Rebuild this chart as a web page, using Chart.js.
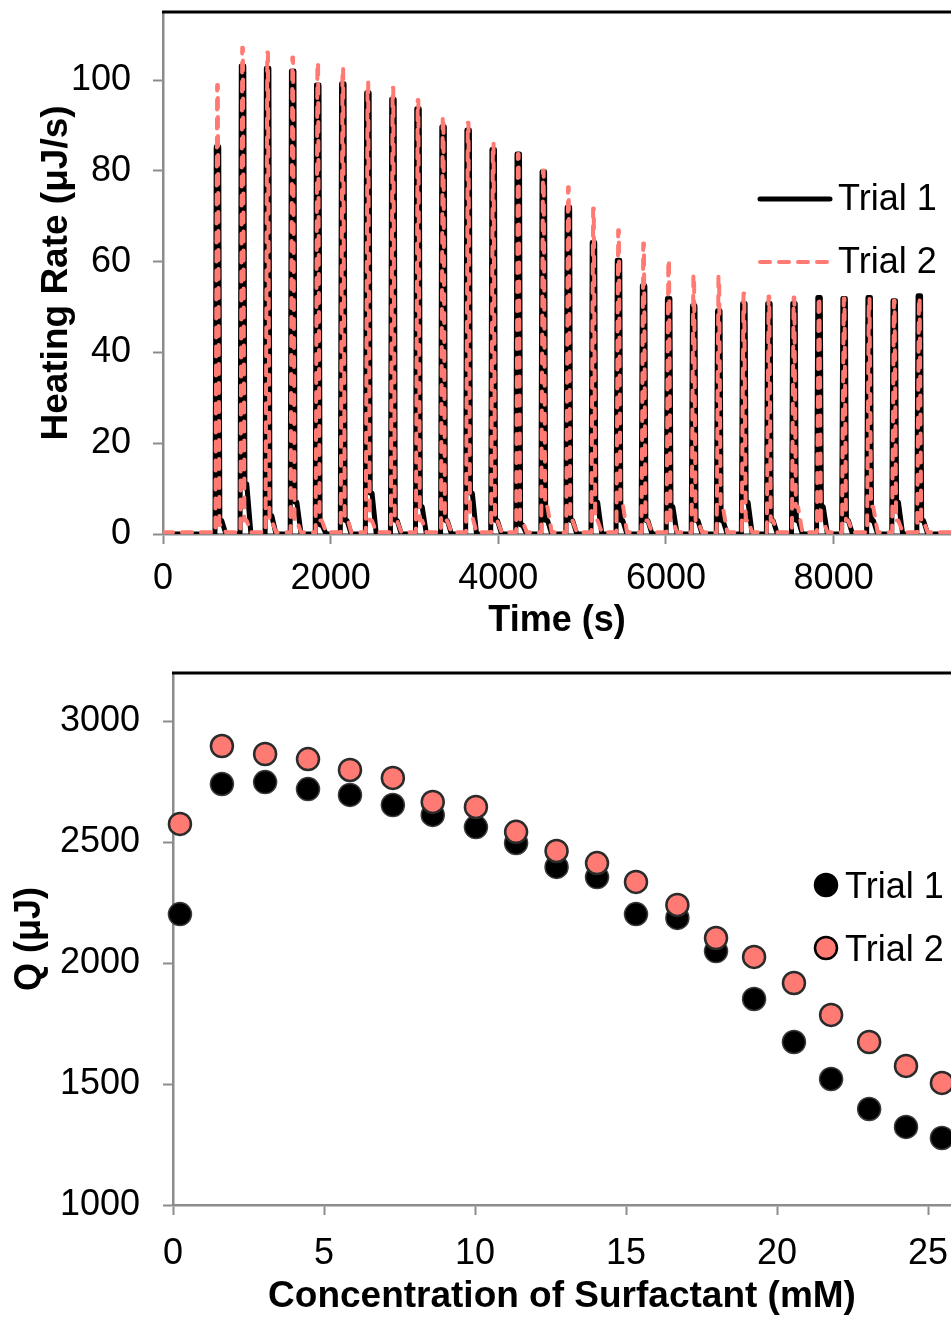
<!DOCTYPE html>
<html>
<head>
<meta charset="utf-8">
<script src="https://cdn.jsdelivr.net/npm/chart.js@4.4.1/dist/chart.umd.min.js"></script>
<style>
  html, body { margin: 0; padding: 0; background: #fff; overflow: hidden; }
  canvas { position: absolute; left: 0; }
  #heat { top: 0; }
  #heats { top: 650px; }
</style>
</head>
<body>
<canvas id="heat" width="951" height="650"></canvas>
<canvas id="heats" width="951" height="669"></canvas>
<script>
// thermogram: injection peak times (s) and peak heating rates (µJ/s)
const peakTime = [650, 949, 1248, 1547, 1846, 2145, 2444, 2743, 3042, 3341, 3640, 3939, 4238, 4537, 4836,
  5135, 5434, 5733, 6032, 6331, 6630, 6929, 7228, 7527, 7826, 8125, 8424, 8723, 9022];
const trial1Peak = [85.3, 103.1, 102.6, 102.0, 98.9, 99.2, 97.2, 95.8, 93.7, 89.7, 89.0, 84.7, 83.7, 79.8, 72.0,
  64.2, 60.3, 54.7, 51.9, 50.3, 49.2, 50.8, 50.8, 50.8, 52.1, 51.9, 52.1, 51.4, 52.5];
const trial2Peak = [98.9, 107.1, 106.1, 105.0, 103.8, 102.6, 99.5, 98.3, 95.6, 91.9, 90.6, 86.0, 83.7, 80.1, 76.4,
  71.7, 66.9, 64.0, 60.3, 57.0, 56.7, 53.0, 52.3, 52.1, 52.1, 51.9, 51.9, 51.4, 52.0];
// small shoulder left after each peak (µJ/s)
const trial1Tail = [3, 11, 4, 7, 2, 3, 9, 3, 6, 3, 9, 3, 2, 3, 3, 7, 3, 3, 6, 3, 3, 7, 3, 3, 6, 3, 3, 7, 3];
const trial2Tail = [2, 3, 3, 3, 3, 4, 3, 3, 3, 3, 4, 3, 3, 6, 3, 3, 7, 3, 3, 3, 6, 3, 3, 6, 3, 3, 6, 3, 3];
const timeTicks = [0, 2000, 4000, 6000, 8000];
const rateTicks = [0, 20, 40, 60, 80, 100];

// integrated heat per injection
const conc = [0.23, 1.62, 3.05, 4.47, 5.86, 7.28, 8.6, 10.03, 11.36, 12.7, 14.04, 15.33, 16.7, 17.98, 19.24,
  20.56, 21.79, 23.05, 24.27, 25.46];
const trial1Q = [2203, 2741, 2749, 2720, 2696, 2654, 2613, 2563, 2497, 2398, 2356, 2203, 2187, 2050, 1852,
  1674, 1521, 1397, 1323, 1277];
const trial2Q = [2576, 2898, 2865, 2844, 2799, 2766, 2667, 2646, 2543, 2464, 2414, 2336, 2241, 2104, 2026,
  1918, 1786, 1674, 1575, 1505];
const concTicks = [0, 5, 10, 15, 20, 25];
const qTicks = [1000, 1500, 2000, 2500, 3000];

const FONT = '"Liberation Sans", Arial, sans-serif';
const SALMON = '#FF7A73';
const AXIS = '#8c8c8c';

Chart.defaults.font.family = FONT;
Chart.defaults.font.size = 36;
Chart.defaults.color = '#000';

// black trace: wider peak top; salmon trace: narrow peak top
function trace1() {
  const pts = [{ x: 0, y: 0 }];
  peakTime.forEach((t, i) => {
    pts.push({ x: t - 30, y: 0 }, { x: t - 15, y: trial1Peak[i] }, { x: t + 15, y: trial1Peak[i] },
      { x: t + 28, y: trial1Tail[i] }, { x: t + 50, y: trial1Tail[i] }, { x: t + 100, y: 0 });
  });
  pts.push({ x: 9400, y: 0 });
  return pts;
}
function trace2() {
  const pts = [{ x: 0, y: 0.4 }];
  peakTime.forEach((t, i) => {
    pts.push({ x: t - 25, y: 0.4 }, { x: t - 4, y: trial2Peak[i] }, { x: t + 4, y: trial2Peak[i] },
      { x: t + 22, y: trial2Tail[i] }, { x: t + 48, y: trial2Tail[i] }, { x: t + 100, y: 0.4 });
  });
  pts.push({ x: 9400, y: 0.4 });
  return pts;
}

const setTicks = list => s => { s.ticks = list.map(v => ({ value: v })); };
const plain = v => String(v);

const topBorder = {
  id: 'topBorder',
  afterDraw(chart) {
    const { ctx, chartArea: a } = chart;
    ctx.save();
    ctx.strokeStyle = '#000';
    ctx.lineWidth = 3;
    ctx.beginPath();
    ctx.moveTo(a.left - 1, a.top);
    ctx.lineTo(a.right, a.top);
    ctx.stroke();
    ctx.restore();
  }
};

const insideLegend = {
  id: 'insideLegend',
  afterDraw(chart, args, o) {
    const ctx = chart.ctx;
    ctx.save();
    ctx.font = '36px ' + FONT;
    ctx.textBaseline = 'middle';
    chart.data.datasets.forEach((ds, i) => {
      const y = o.y + i * o.gap;
      if (o.kind === 'line') {
        ctx.strokeStyle = ds.borderColor;
        ctx.lineWidth = ds.borderWidth;
        ctx.lineCap = 'round';
        ctx.setLineDash(ds.borderDash || []);
        ctx.beginPath();
        ctx.moveTo(o.x, y);
        ctx.lineTo(o.x + o.len, y);
        ctx.stroke();
        ctx.setLineDash([]);
        ctx.fillStyle = '#000';
        ctx.fillText(ds.label, o.x + o.len + 8, y + 1);
      } else {
        ctx.fillStyle = ds.backgroundColor;
        ctx.strokeStyle = i === 0 ? ds.backgroundColor : '#000';
        ctx.lineWidth = 2.5;
        ctx.beginPath();
        ctx.arc(o.x, y, 11, 0, Math.PI * 2);
        ctx.fill();
        ctx.stroke();
        ctx.fillStyle = '#000';
        ctx.fillText(ds.label, o.x + 19, y + 3);
      }
    });
    ctx.restore();
  }
};

function axis(extra) {
  return Object.assign({
    type: 'linear',
    grid: { drawOnChartArea: false, drawTicks: true, tickLength: 10, tickColor: AXIS, tickWidth: 2 },
    border: { display: true, color: AXIS, width: 2.5 }
  }, extra);
}

new Chart(document.getElementById('heat'), {
  type: 'line',
  data: {
    datasets: [
      { label: 'Trial 1', data: trace1(), borderColor: '#000', borderWidth: 5,
        pointRadius: 0, tension: 0, borderJoinStyle: 'round', borderCapStyle: 'round', order: 1 },
      { label: 'Trial 2', data: trace2(), borderColor: SALMON, borderWidth: 4,
        borderDash: [10, 9], pointRadius: 0, tension: 0, borderJoinStyle: 'round', borderCapStyle: 'round', order: 0 }
    ]
  },
  options: {
    responsive: false,
    animation: false,
    events: [],
    layout: { autoPadding: false, padding: { top: 12, left: 0, right: 0, bottom: 0 } },
    plugins: {
      legend: { display: false },
      tooltip: { enabled: false },
      insideLegend: { kind: 'line', x: 760, y: 199, gap: 63, len: 70 }
    },
    scales: {
      x: axis({
        min: 0, max: 9400,
        afterBuildTicks: setTicks(timeTicks),
        afterFit: s => { s.height = 116; s.paddingLeft = 0; s.paddingRight = 0; },
        ticks: { padding: 13, maxRotation: 0, autoSkip: false, callback: plain },
        title: { display: true, text: 'Time (s)', font: { size: 36, weight: 'bold' }, padding: { top: 0, bottom: 7 } }
      }),
      y: axis({
        min: 0, max: 115,
        afterBuildTicks: setTicks(rateTicks),
        afterFit: s => { s.width = 163; s.paddingTop = 0; s.paddingBottom = 0; },
        ticks: { padding: 22, callback: plain },
        title: { display: true, text: 'Heating Rate (μJ/s)', font: { size: 37, weight: 'bold' }, padding: { top: 35, bottom: 0 } }
      })
    }
  },
  plugins: [topBorder, insideLegend]
});

new Chart(document.getElementById('heats'), {
  type: 'scatter',
  data: {
    datasets: [
      { label: 'Trial 1', data: conc.map((c, i) => ({ x: c, y: trial1Q[i] })), backgroundColor: '#000',
        borderColor: '#3c3c3c', borderWidth: 1.5, pointRadius: 11.5, clip: false, order: 1 },
      { label: 'Trial 2', data: conc.map((c, i) => ({ x: c, y: trial2Q[i] })), backgroundColor: SALMON,
        borderColor: '#2b2b2b', borderWidth: 2.5, pointRadius: 11, clip: false, order: 0 }
    ]
  },
  options: {
    responsive: false,
    animation: false,
    events: [],
    layout: { autoPadding: false, padding: { top: 23, left: 0, right: 0, bottom: 0 } },
    plugins: {
      legend: { display: false },
      tooltip: { enabled: false },
      insideLegend: { kind: 'point', x: 826, y: 235, gap: 63 }
    },
    scales: {
      x: axis({
        min: 0, max: 25.76,
        afterBuildTicks: setTicks(concTicks),
        afterFit: s => { s.height = 114; s.paddingLeft = 0; s.paddingRight = 0; },
        ticks: { padding: 17, maxRotation: 0, autoSkip: false, callback: plain },
        title: { display: true, text: 'Concentration of Surfactant (mM)', font: { size: 37, weight: 'bold' }, padding: { top: 0, bottom: 0 } }
      }),
      y: axis({
        min: 1000, max: 3200,
        afterBuildTicks: setTicks(qTicks),
        afterFit: s => { s.width = 173; s.paddingTop = 0; s.paddingBottom = 0; },
        ticks: { padding: 23, callback: plain },
        title: { display: true, text: 'Q (μJ)', font: { size: 36, weight: 'bold' }, padding: { top: 8, bottom: 0 } }
      })
    }
  },
  plugins: [topBorder, insideLegend]
});
</script>
</body>
</html>
